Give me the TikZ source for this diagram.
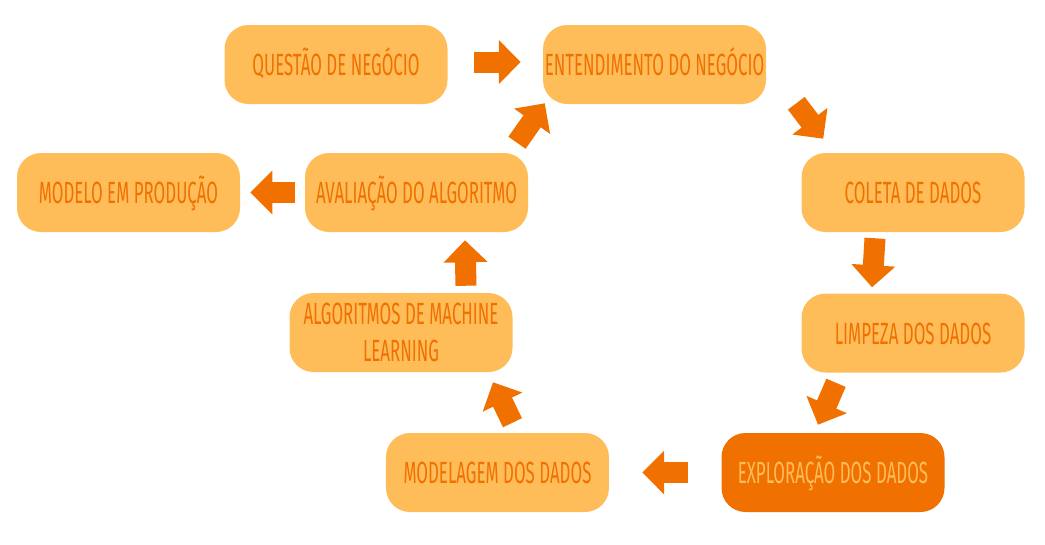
\documentclass[tikz,border=0pt]{standalone}
\usepackage{fontspec}
\usepackage{tikz}
\usetikzlibrary{arrows.meta, positioning}

\newfontfamily\stagefont{Fira Sans}[FakeStretch=0.55]
\definecolor{stagefill}{HTML}{FFBD59}
\definecolor{stagetext}{HTML}{F07000}

\begin{document}
\begin{tikzpicture}[x=0.75pt, y=-0.75pt]
    % settings can be global or per picture
    \tikzset{
      stage/.style={rounded corners=18pt, fill=stagefill, text=stagetext,
        minimum width=167.25pt, minimum height=59.25pt, inner sep=0pt,
        text height=17pt, text depth=0pt,
        align=center, font=\stagefont\fontsize{23}{27.75}\selectfont},
      current/.style={stage, fill=stagetext, text=stagefill},
      flow/.style={draw=stagetext, line width=15.75pt,
        -{Triangle[length=16.5pt, width=32pt]}},
    }
    \useasboundingbox (0,0) rectangle (1045,544);

    % stages
    \node[stage] (questao) at (336,64.5) {QUESTÃO DE NEGÓCIO};
    \node[stage, right=71.25pt of questao] (negocio) {ENTENDIMENTO DO NEGÓCIO};
    \node[stage] (coleta) at (913,192.5) {COLETA DE DADOS};
    \node[stage, below=45.75pt of coleta] (limpeza) {LIMPEZA DOS DADOS};
    \node[current] (exploracao) at (833,472.5) {EXPLORAÇÃO DOS DADOS};
    \node[stage, left=84pt of exploracao] (modelagem) {MODELAGEM DOS DADOS};
    \node[stage, text height={}, text depth={}] (algoritmos) at (401,332.5)
      {ALGORITMOS DE MACHINE\\LEARNING};
    \node[stage] (avaliacao) at (416.5,192.5) {AVALIAÇÃO DO ALGORITMO};
    \node[stage] (producao) at (128.5,192.5) {MODELO EM PRODUÇÃO};

    % transitions
    \draw[flow] ([shift={(26,-2.5)}]questao.east) -- ([shift={(-22,-2.5)}]negocio.west);
    \draw[flow] ([shift={(30,-1)}]negocio.south east) -- ([shift={(22,-14)}]coleta.north west);
    \draw[flow] ([shift={(-38,6)}]coleta.south) -- ([shift={(-41,-6)}]limpeza.north);
    \draw[flow] ([shift={(-77,10)}]limpeza.south) -- ([shift={(-15,-8)}]exploracao.north);
    \draw[flow] ([shift={(-33,0)}]exploracao.west) -- ([shift={(33,0)}]modelagem.east);
    \draw[flow] ([shift={(15,-10)}]modelagem.north) -- ([shift={(92,10)}]algoritmos.south);
    \draw[flow] ([shift={(65,-7)}]algoritmos.north) -- ([shift={(48.5,8)}]avaliacao.south);
    \draw[flow] ([shift={(100.5,-10)}]avaliacao.north) -- ([shift={(2,-1)}]negocio.south west);
    \draw[flow] ([shift={(-10,0)}]avaliacao.west) -- ([shift={(10,0)}]producao.east);

\end{tikzpicture}
\end{document}
